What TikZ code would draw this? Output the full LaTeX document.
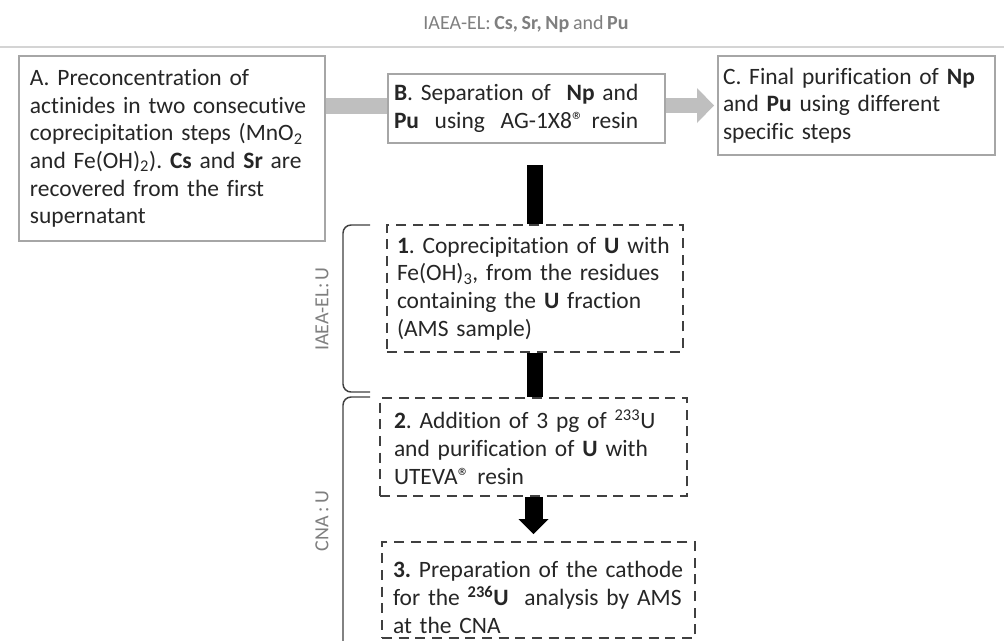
\documentclass[tikz,border=0pt]{standalone}
\usepackage{fontspec}
\setmainfont{Carlito}[Ligatures=NoCommon, WordSpace=0.8]
\usepackage{xcolor}
\usetikzlibrary{arrows.meta,calc}
\definecolor{boxline}{HTML}{A6A6A6}
\definecolor{bandgray}{HTML}{BFBFBF}
\definecolor{txt}{HTML}{262626}
\definecolor{lblgray}{HTML}{7F7F7F}
\definecolor{dashline}{HTML}{404040}
\definecolor{rulegray}{HTML}{D4D4D4}
\frenchspacing
\hyphenpenalty=10000

\begin{document}
\begin{tikzpicture}[x=0.75pt, y=-0.75pt,
  box/.style={draw=boxline, line width=1.5pt, fill=white, align=left,
    text=txt, font=\fontsize{17.6}{20.7}\selectfont, inner ysep=0pt},
  dbox/.style={box, draw=dashline, line width=1.4pt,
    dash pattern=on 7.5pt off 5pt},
  band/.style={draw=bandgray, line width=12pt},
  bar/.style={draw=black, line width=12pt},
  brk/.style={draw=dashline, line width=1.1pt, rounded corners=6pt},
  lbl/.style={text=lblgray, font=\fontsize{15}{18}\selectfont}]
  \path[fill=white, use as bounding box] (0,0) rectangle (1004,640);
  \draw[rulegray, line width=1.2pt] (0,47) -- (1004,47);
  \node[lbl, anchor=base] (title) at (526,29)
    {IAEA-EL: \textbf{Cs, Sr, Np} and \textbf{Pu}};

  \node[box, text width=213pt, inner xsep=8.25pt, minimum height=138.75pt]
    (A) at (172,148.5) {A. Preconcentration of\\ actinides in two consecutive\\
    coprecipitation steps (MnO\textsubscript{2}\\
    and Fe(OH)\textsubscript{2}). \textbf{Cs} and \textbf{Sr} are\\
    recovered from the first\\ supernatant};
  \node[box, text width=198.75pt, inner xsep=4.5pt, minimum height=51.75pt]
    (B) at (526.5,108.5) {\textbf{B}. Separation of\ \ \textbf{Np} and\\
    \textbf{Pu}\ \ using\ \ AG-1X8® resin};
  \node[box, text width=200.25pt, inner xsep=3.75pt, minimum height=74.25pt]
    (C) at (856.5,105.5) {C. Final purification of \textbf{Np}\\
    and \textbf{Pu} using different\\ specific steps};

  \node[dbox, text width=207pt, inner xsep=7.5pt, minimum height=95.25pt]
    (s1) at (535,288.5) {\textbf{1}. Coprecipitation of \textbf{U} with\\
    Fe(OH)\textsubscript{3}, from the residues\\
    containing the \textbf{U} fraction\\ (AMS sample)};
  \node[dbox, text width=209.25pt, inner xsep=10.5pt, minimum height=73.5pt]
    (s2) at (533.5,447) {\textbf{2}. Addition of 3 pg of \textsuperscript{233}U\\
    and purification of \textbf{U} with\\ UTEVA® resin};
  \node[dbox, text width=218.25pt, inner xsep=8.25pt, minimum height=72pt]
    (s3) at (538.5,590) {\rule{0pt}{23.5pt}\textbf{3.} Preparation of the cathode\\
    for the \textbf{\textsuperscript{236}U}\ \ analysis by AMS\\ at the CNA};

  \node[lbl, rotate=90] (lbl1) at (322,309) {IAEA-EL: U};
  \node[lbl, rotate=90] (lbl2) at (322,521) {CNA : U};

  \draw[band] ($(A.east |- B.west)+(0,-3)$) -- ($(B.west)+(0,-3)$);
  \draw[band, line width=11.25pt,
    -{Triangle[length=12.75pt, width=26.25pt, line width=0pt]},
    shorten >=2.25pt] (B.east |- C.west) -- (C.west);
  \draw[bar] (s1.north |- B.south) ++(0,21) -- (s1.north);
  \draw[bar] (s1.south) -- (s1.south |- s2.north);
  \draw[bar, line width=13.5pt,
    -{Triangle[length=11.25pt, width=22.5pt, line width=0pt]},
    shorten >=5.25pt] (s2.south) -- (s2.south |- s3.north);

  \draw[brk] (370,225) -| (343,392) -- (370,392);
  \draw[brk] (370,397) -| (343,645);
\end{tikzpicture}
\end{document}
